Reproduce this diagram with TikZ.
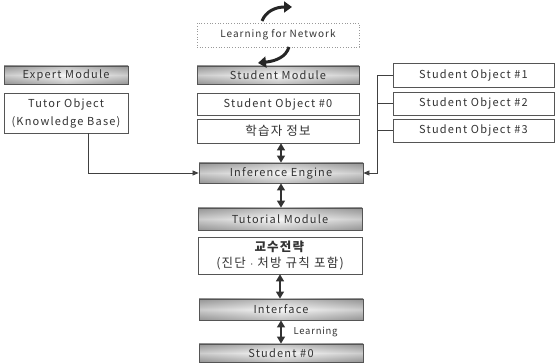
\documentclass[tikz,border=0pt]{standalone}
\usepackage{fontspec}
\setmainfont{Noto Sans CJK KR}
\usetikzlibrary{arrows.meta}
\definecolor{txt}{HTML}{333333}
\definecolor{edge}{HTML}{555555}
\newcommand\bodyfont{\fontsize{11}{13.5}\selectfont\addfontfeature{LetterSpace=11}}
\newcommand\korfont{\fontsize{12.5}{16}\selectfont\addfontfeature{LetterSpace=10}}
\tikzset{
  plain/.style={draw=edge, line width=0.7pt, fill=white, text=txt, font=\bodyfont, align=center, inner sep=0pt},
  mod/.style={draw=edge, line width=0.8pt, top color=gray!75, bottom color=gray!75, middle color=gray!8, text=txt, font=\bodyfont, inner sep=0pt,
    path picture={\shade[left color=gray, right color=gray, middle color=white, opacity=0.35] (path picture bounding box.south west) rectangle (path picture bounding box.north east);}},
  conn/.style={draw=black!75, line width=0.7pt, -{Triangle[length=6pt,width=5pt]}},
  link/.style={draw=black!75, line width=0.7pt},
  dbl/.style={draw=black!80, line width=1.3pt, {Triangle[length=7pt,width=8pt]}-{Triangle[length=7pt,width=8pt]}},
  curv/.style={draw=black!85, line width=3pt, -{Triangle[length=8pt,width=11pt]}}
}
\begin{document}
\begin{tikzpicture}[x=1pt,y=-1pt]
\useasboundingbox (0,0) rectangle (555,363);
% left column
\node[mod, minimum width=124pt, minimum height=18pt] (expert) at (66,75) {Expert Module};
\node[plain, minimum width=124pt, minimum height=40pt, font=\fontsize{11}{18}\selectfont\addfontfeature{LetterSpace=11}] (tutor) at (66,113) {Tutor Object\\(Knowledge Base)};
% centre column
\node[plain, draw=gray!80, dotted, line width=0.9pt, minimum width=162pt, minimum height=24pt, font=\fontsize{10}{12}\selectfont\addfontfeature{LetterSpace=10}] (learn) at (278,35) {Learning for Network};
\node[mod, minimum width=162pt, minimum height=18pt] (smod) at (278,75) {Student Module};
\node[plain, minimum width=162pt, minimum height=22pt] (so0) at (278,104) {Student Object \#0};
\node[plain, minimum width=162pt, minimum height=24pt, font=\korfont] (info) at (278,131) {학습자 정보};
\node[mod, minimum width=164pt, minimum height=20pt] (inf) at (281,173) {Inference Engine};
\node[mod, minimum width=164pt, minimum height=22pt] (tut) at (280,219) {Tutorial Module};
\node[plain, minimum width=164pt, minimum height=37pt, font=\korfont] (strat) at (280,255.5) {\textbf{교수전략}\\(진단 $\cdot$ 처방 규칙 포함)};
\node[mod, minimum width=164pt, minimum height=21pt] (iface) at (281,309.5) {Interface};
\node[mod, minimum width=164pt, minimum height=18pt] (s0) at (281,353) {Student \#0};
% right column
\node[plain, minimum width=161pt, minimum height=24pt] (so1) at (473.5,75) {Student Object \#1};
\node[plain, minimum width=161pt, minimum height=23pt] (so2) at (473.5,103.5) {Student Object \#2};
\node[plain, minimum width=161pt, minimum height=23pt] (so3) at (473.5,130.5) {Student Object \#3};
% connectors
\draw[conn] ([xshift=22pt]tutor.south) |- (inf.west);
\coordinate (bx) at (377,0);
\draw[link] (so2.west) -- (so2.west -| bx);
\draw[link] (so3.west) -- (so3.west -| bx);
\draw[conn] (so1.west) -- (so1.west -| bx) |- (inf.east);
\draw[dbl] (info.south -| inf.north) -- (inf.north);
\draw[dbl] (inf.south) -- (inf.south |- tut.north);
\draw[dbl] (strat.south) -- (strat.south |- iface.north);
\draw[dbl] (iface.south) -- (iface.south |- s0.north);
\node[text=txt, font=\fontsize{9.5}{11}\selectfont\addfontfeature{LetterSpace=8}, anchor=west] (lrn) at (290,332) {Learning};
% curved arrows
\coordinate (ta) at (262,21);
\coordinate (tb) at (292,7);
\coordinate (ba) at (289,47);
\coordinate (bb) at (258,63);
\draw[curv] (ta) .. controls (266,11) and (276,7) .. (tb);
\draw[curv] (ba) .. controls (286,57) and (276,61) .. (bb);
\end{tikzpicture}
\end{document}
